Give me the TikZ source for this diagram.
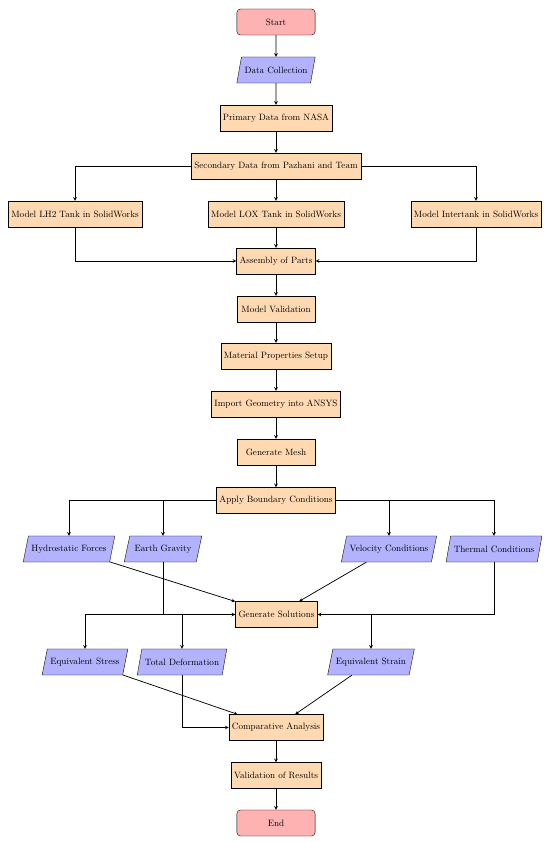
\documentclass[tikz,border=0pt]{standalone}
\usetikzlibrary{shapes.geometric,arrows}
\begin{document}
\begin{tikzpicture}[x=1.0917pt,y=-1.0917pt,
  startstop/.style={rectangle, rounded corners, minimum width=3cm, minimum height=1cm, text centered, draw=black, fill=red!30},
  io/.style={trapezium, trapezium left angle=70, trapezium right angle=110, trapezium stretches=true, minimum width=3cm, minimum height=1cm, text centered, draw=black, fill=blue!30},
  process/.style={rectangle, minimum width=3cm, minimum height=1cm, text centered, draw=black, fill=orange!30},
  arrow/.style={thick,->,>=stealth}]
\useasboundingbox (0,0) rectangle (550,842);
\node[startstop] (start) at (276,22) {Start};
\node[io] (data) at (276,70) {Data Collection};
\node[process] (primary) at (276,118) {Primary Data from NASA};
\node[process] (secondary) at (276,166) {Secondary Data from Pazhani and Team};
\node[process] (lh2) at (75,214) {Model LH2 Tank in SolidWorks};
\node[process] (lox) at (276,214) {Model LOX Tank in SolidWorks};
\node[process] (inter) at (476,214) {Model Intertank in SolidWorks};
\node[process] (assembly) at (276,261) {Assembly of Parts};
\node[process] (valid) at (276,309) {Model Validation};
\node[process] (material) at (276,356) {Material Properties Setup};
\node[process] (import) at (276,404) {Import Geometry into ANSYS};
\node[process] (mesh) at (276,452) {Generate Mesh};
\node[process] (apply) at (276,500.5) {Apply Boundary Conditions};
\node[io] (hydro) at (69,549) {Hydrostatic Forces};
\node[io] (gravity) at (163,549) {Earth Gravity};
\node[io] (velocity) at (389,549) {Velocity Conditions};
\node[io] (thermal) at (494,549) {Thermal Conditions};
\node[process] (gen) at (276.5,614.5) {Generate Solutions};
\node[io] (stress) at (85,662) {Equivalent Stress};
\node[io] (deform) at (182,662) {Total Deformation};
\node[io] (strain) at (371,662) {Equivalent Strain};
\node[process] (comp) at (276,727.5) {Comparative Analysis};
\node[process] (results) at (276,775.5) {Validation of Results};
\node[startstop] (end) at (276,823) {End};
\begin{scope}[arrow]
\draw (start) -- (data);
\draw (data) -- (primary);
\draw (primary) -- (secondary);
\draw (secondary) -- (lox);
\draw (secondary.west) -| (lh2.north);
\draw (secondary.east) -| (inter.north);
\draw (lox) -- (assembly);
\draw (lh2.south) |- (assembly.west);
\draw (inter.south) |- (assembly.east);
\draw (assembly) -- (valid);
\draw (valid) -- (material);
\draw (material) -- (import);
\draw (import) -- (mesh);
\draw (mesh) -- (apply);
\draw (apply.west) -| (hydro.north);
\draw (apply.west) -| (gravity.north);
\draw (apply.east) -| (velocity.north);
\draw (apply.east) -| (thermal.north);
\draw (hydro) -- (gen);
\draw (velocity) -- (gen);
\draw (gravity.south) |- (gen.west);
\draw (thermal.south) |- (gen.east);
\draw (gen.west) -| (stress.north);
\draw (gen.west) -| (deform.north);
\draw (gen.east) -| (strain.north);
\draw (stress) -- (comp);
\draw (strain) -- (comp);
\draw (deform.south) |- (comp.west);
\draw (comp) -- (results);
\draw (results) -- (end);
\end{scope}
\end{tikzpicture}
\end{document}
